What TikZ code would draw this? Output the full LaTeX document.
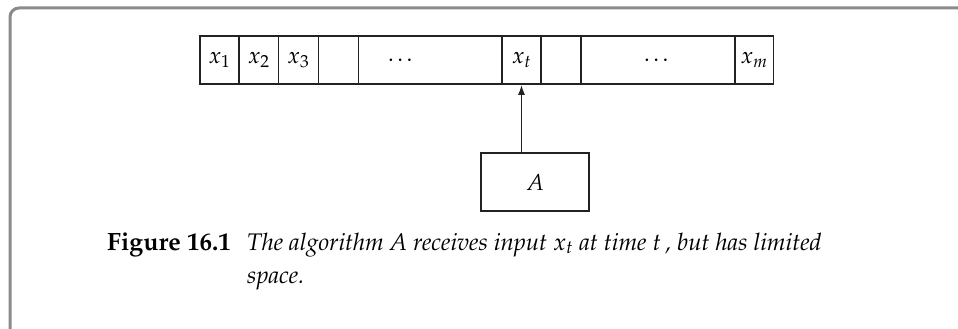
\documentclass[tikz,border=0pt]{standalone}
\usepackage[T1]{fontenc}
\usepackage{mathpazo}
\usetikzlibrary{arrows.meta}
\definecolor{ink}{HTML}{222222}
\definecolor{framegray}{HTML}{8A8A8A}
\tikzset{
  cell/.style={draw=ink, line width=1.6pt, minimum height=48pt, inner sep=0pt, anchor=center, font=\fontsize{23}{28}\selectfont},
  algbox/.style={draw=ink, line width=1.6pt, minimum width=108pt, minimum height=57.5pt, inner sep=0pt, font=\fontsize{23}{28}\selectfont},
  conn/.style={draw=ink, line width=1.6pt, -{Latex[length=10pt,width=7pt]}},
  caption/.style={anchor=base west, inner sep=0pt, font=\fontsize{24}{33}\selectfont},
}
\begin{document}
\begin{tikzpicture}[x=1pt,y=-1pt]
\useasboundingbox (0,0) rectangle (958,329);
\begin{scope}
\clip (0,0) rectangle (958,329);
\draw[framegray, line width=3pt, rounded corners=9pt] (10,8) rectangle (990,360);
\end{scope}
% tape
\node[cell, minimum width=39pt]   (c1) at (219.5,60) {$x_1$};
\node[cell, minimum width=39.5pt] (c2) at (258.75,60) {$x_2$};
\node[cell, minimum width=39.8pt] (c3) at (298.4,60) {$x_3$};
\node[cell, minimum width=40pt]   (c4) at (338.3,60) {};
\node[cell, minimum width=143.7pt](c5) at (430.15,60) {};
\node[inner sep=0pt, font=\fontsize{23}{28}\selectfont] (d1) at (402,60) {\ldots};
\node[cell, minimum width=39pt]   (c6) at (521.5,60) {$x_t$};
\node[cell, minimum width=40pt]   (c7) at (561,60) {};
\node[cell, minimum width=154pt]  (c8) at (658,60) {\ldots};
\node[cell, minimum width=38.5pt] (c9) at (754.25,60) {$x_m$};
% algorithm box
\node[algbox] (A) at (535,182) {$A$};
\draw[conn] (c6.south |- A.north) -- (c6.south);
% caption
\node[caption, font=\fontsize{25}{33}\selectfont] (fig) at (107,250) {\textbf{Figure 16.1}};
\node[caption] (cap1) at (247,250) {\itshape The algorithm A receives input $x_t$ at time $t$\,, but has limited};
\node[caption] (cap2) at (247,283) {\itshape space.};
\end{tikzpicture}
\end{document}
